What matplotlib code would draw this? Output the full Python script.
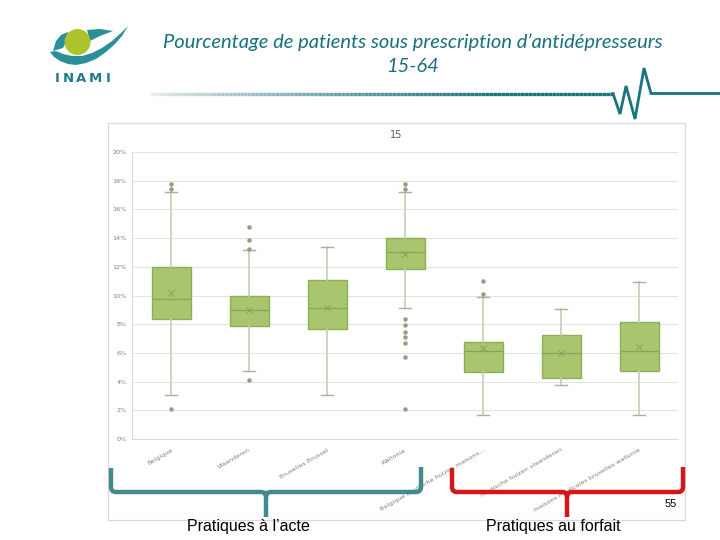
import matplotlib
matplotlib.use("Agg")
import matplotlib.pyplot as plt
import numpy as np
from matplotlib.patches import Circle, Polygon, Rectangle
from matplotlib.collections import LineCollection
from matplotlib.path import Path
from matplotlib.patches import PathPatch

# ---------------- data (percent) ----------------
categories = ["Belgique", "Vlaanderen", "Bruxelles Brussel", "Wallonie",
              "Belgique medische huizen maisons...",
              "medische huizen vlaanderen",
              "maisons médicales bruxelles wallonie"]
q1 = [8.35, 7.85, 7.7, 11.85, 4.65, 4.25, 4.75]
medians = [9.75, 9.0, 9.12, 13.05, 6.1, 5.97, 6.1]
q3 = [12.0, 10.0, 11.08, 14.0, 6.76, 7.27, 8.13]
whisker_low = [3.1, 4.72, 3.1, 9.12, 1.7, 3.74, 1.7]
whisker_high = [17.2, 13.17, 13.36, 17.2, 9.92, 9.04, 10.96]
means = [10.15, 9.0, 9.13, 12.87, 6.32, 5.97, 6.43]
outliers = [[17.75, 17.4, 2.1],
            [14.77, 13.85, 13.24, 4.13],
            [],
            [17.77, 17.4, 8.34, 7.97, 7.48, 7.09, 6.67, 5.74, 2.11],
            [10.99, 10.08],
            [],
            []]
y_ticks = [0, 2, 4, 6, 8, 10, 12, 14, 16, 18, 20]
y_tick_labels = ["0%", "2%", "4%", "6%", "8%", "10%", "12%", "14%", "16%", "18%", "20%"]
chart_title = "15"
slide_title = "Pourcentage de patients sous prescription d\u2019antidépresseurs"
slide_subtitle = "15-64"
group_labels = ["Pratiques à l\u2019acte", "Pratiques au forfait"]
page_number = "55"
logo_letters = ["I", "N", "A", "M", "I"]

W, H = 720, 540
fig = plt.figure(figsize=(7.2, 5.4), dpi=100)
fig.patch.set_facecolor("white")

def fx(px):
    return px / W

def fy(py):
    return 1 - py / H

# ---------------- chart axes ----------------
ax_left, ax_right, ax_top, ax_bottom = 132, 678, 152, 439
ax = fig.add_axes([fx(ax_left), fy(ax_bottom), (ax_right - ax_left) / W, (ax_bottom - ax_top) / H])
ax.set_zorder(2)
ax.patch.set_alpha(0)

stats = []
for i in range(len(categories)):
    stats.append(dict(med=medians[i], q1=q1[i], q3=q3[i], whislo=whisker_low[i],
                      whishi=whisker_high[i], mean=means[i], fliers=outliers[i],
                      label=categories[i]))

box_face = "#a9c66f"
box_edge = "#8eae55"
ax.bxp(stats, positions=range(len(categories)), widths=0.5, patch_artist=True,
       showmeans=True, showfliers=True,
       boxprops=dict(facecolor=box_face, edgecolor=box_edge, linewidth=1.0),
       medianprops=dict(color="#8aa555", linewidth=1.0),
       whiskerprops=dict(color="#c9cbb8", linewidth=1.2),
       capprops=dict(color="#aab096", linewidth=1.0),
       capwidths=0.16,
       meanprops=dict(marker="x", markeredgecolor="#8c9e6a", markersize=4.5, markeredgewidth=0.7),
       flierprops=dict(marker="o", markerfacecolor="#9a9c80", markeredgecolor="#9a9c80", markersize=2.2))

ax.set_xlim(-0.5, len(categories) - 0.5)
ax.set_ylim(0, 20)
ax.set_yticks(y_ticks)
ax.set_yticklabels(y_tick_labels, fontsize=4.6, color="#808080")
ax.yaxis.grid(True, color="#e3e3e3", linewidth=0.8)
ax.set_axisbelow(True)
ax.tick_params(axis="y", length=0, pad=4)
ax.tick_params(axis="x", length=0, pad=6)
ax.set_xticks(range(len(categories)))
ax.set_xticklabels(categories, fontsize=4.6, color="#808080", rotation=30,
                   ha="right", va="top", rotation_mode="anchor")
for side in ["top", "right"]:
    ax.spines[side].set_visible(False)
ax.spines["left"].set_color("#dcdcdc")
ax.spines["bottom"].set_color("#dcdcdc")
ax.spines["left"].set_linewidth(0.8)
ax.spines["bottom"].set_linewidth(0.8)

# ---------------- overlay for slide decoration ----------------
ov = fig.add_axes([0, 0, 1, 1])
ov.set_xlim(0, W)
ov.set_ylim(H, 0)
ov.axis("off")
ov.set_zorder(3)
ov.patch.set_alpha(0)

# chart frame
ov.add_patch(Rectangle((108, 123), 577, 397, fill=False, edgecolor="#d9d9d9", linewidth=0.9))
ov.text(396, 135, chart_title, fontsize=7, color="#595959", ha="center", va="center")

# slide title
ov.text(413, 42, slide_title, fontsize=14.5, style="italic", family="Lato",
        color="#17707c", ha="center", va="center")
ov.text(413, 67, slide_subtitle, fontsize=14.5, style="italic", family="Lato",
        color="#17707c", ha="center", va="center")

# header gradient line
xs = np.linspace(150, 614, 120)
segs = [[(xs[i], 93.5), (xs[i + 1], 93.5)] for i in range(len(xs) - 1)]
c0 = np.array([0.92, 0.93, 0.93])
c1 = np.array([0.10, 0.45, 0.50])
cols = [tuple(c0 + (c1 - c0) * min(1, (t / 0.75)) ** 0.8) for t in np.linspace(0, 1, len(segs))]
ov.add_collection(LineCollection(segs, colors=cols, linewidths=2.4))
ecg_x = [613, 620, 626, 635, 644, 651, 720]
ecg_y = [93.5, 114, 86, 119, 68, 93.5, 93.5]
ov.plot(ecg_x, ecg_y, color="#1a7480", linewidth=2.0, solid_joinstyle="miter")

# logo
teal = "#2a8f96"
ov.add_patch(Polygon([(53, 51), (56, 41), (61, 35), (68, 32), (67, 40), (63, 48)],
                     closed=True, facecolor=teal, edgecolor="none"))
ov.add_patch(Polygon([(87, 30), (100, 29), (113, 31), (100, 36), (90, 41)],
                     closed=True, facecolor=teal, edgecolor="none"))
swoosh = [(50, 52), (54, 57), (60, 61), (68, 64), (76, 65), (86, 63), (96, 59),
          (106, 52), (115, 44), (122, 36), (128, 26),
          (121, 33), (112, 41), (102, 48), (92, 53), (82, 56), (72, 56),
          (63, 54), (56, 51)]
ov.add_patch(Polygon(swoosh, closed=True, facecolor=teal, edgecolor="none"))
ov.add_patch(Circle((77.5, 42), 13, facecolor="#adc32c", edgecolor="none"))
for letter, lx in zip(logo_letters, [57, 68.5, 81, 95, 108.5]):
    ov.text(lx, 78.5, letter, fontsize=9.5, color="#1d7d88", ha="center", va="center",
            family="DejaVu Sans", fontweight="semibold")

# brackets
def bracket(x0, x1, xm, color):
    r = 5
    verts = [(x0, 468), (x0, 487), (x0, 492), (x0 + r, 492),
             (xm - r, 492), (xm, 492), (xm, 497), (xm, 517),
             (xm, 497), (xm, 492), (xm + r, 492),
             (x1 - r, 492), (x1, 492), (x1, 487), (x1, 467)]
    codes = [Path.MOVETO, Path.LINETO, Path.CURVE3, Path.CURVE3,
             Path.LINETO, Path.CURVE3, Path.CURVE3, Path.LINETO,
             Path.MOVETO, Path.CURVE3, Path.CURVE3,
             Path.LINETO, Path.CURVE3, Path.CURVE3, Path.LINETO]
    ov.add_patch(PathPatch(Path(verts, codes), fill=False, edgecolor=color, linewidth=3.2,
                           capstyle="butt"))

bracket(111, 421, 266, "#428a8f")
bracket(452, 683, 567, "#d4161b")

ov.text(248, 527, group_labels[0], fontsize=11.5, family="Liberation Sans", color="black",
        ha="center", va="center")
ov.text(553, 527, group_labels[1], fontsize=11.5, family="Liberation Sans", color="black",
        ha="center", va="center")
ov.text(677, 504, page_number, fontsize=8, family="Liberation Sans", color="black",
        ha="right", va="center")

fig.savefig("out.png", dpi=100)
